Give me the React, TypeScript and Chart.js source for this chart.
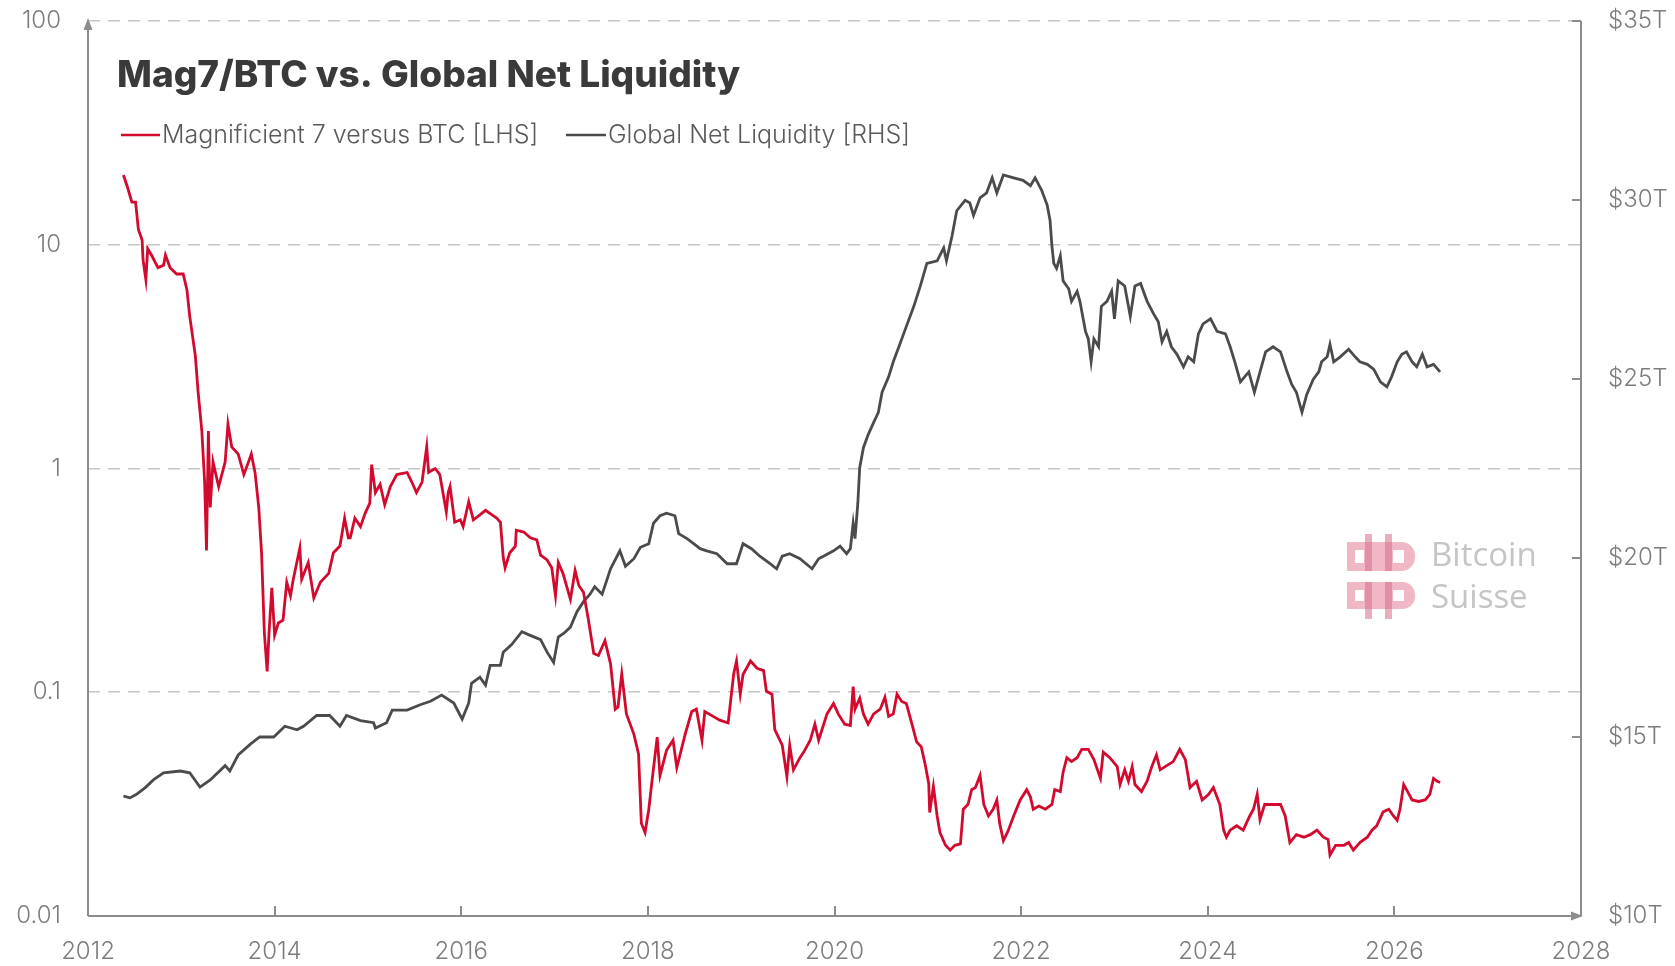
import React, { useEffect, useRef } from 'react';
import { Chart, registerables } from 'chart.js';

Chart.register(...registerables);

// ---------- data ----------
const mag7Years = [
  2012.38, 2012.43, 2012.47, 2012.51, 2012.54, 2012.58, 2012.59, 2012.62, 2012.64, 2012.68,
  2012.75, 2012.81, 2012.83, 2012.88, 2012.95, 2013.02, 2013.06, 2013.09, 2013.15, 2013.18,
  2013.22, 2013.25, 2013.27, 2013.29, 2013.31, 2013.34, 2013.40, 2013.47, 2013.50, 2013.54,
  2013.61, 2013.67, 2013.72, 2013.75, 2013.79, 2013.83, 2013.86, 2013.89, 2013.92, 2013.94,
  2013.97, 2014.00, 2014.04, 2014.09, 2014.13, 2014.17, 2014.20, 2014.27, 2014.29, 2014.36,
  2014.42, 2014.49, 2014.58, 2014.63, 2014.70, 2014.75, 2014.79, 2014.81, 2014.86, 2014.92,
  2014.97, 2015.02, 2015.04, 2015.08, 2015.13, 2015.18, 2015.24, 2015.31, 2015.42, 2015.47,
  2015.52, 2015.58, 2015.63, 2015.65, 2015.72, 2015.77, 2015.84, 2015.86, 2015.88, 2015.93,
  2015.99, 2016.02, 2016.08, 2016.13, 2016.20, 2016.26, 2016.33, 2016.38, 2016.42, 2016.45,
  2016.47, 2016.52, 2016.58, 2016.59, 2016.67, 2016.74, 2016.81, 2016.85, 2016.92, 2016.97,
  2017.01, 2017.04, 2017.09, 2017.17, 2017.22, 2017.26, 2017.31, 2017.36, 2017.42, 2017.47,
  2017.54, 2017.60, 2017.65, 2017.68, 2017.72, 2017.77, 2017.85, 2017.90, 2017.93, 2017.97,
  2018.01, 2018.04, 2018.10, 2018.13, 2018.20, 2018.27, 2018.31, 2018.40, 2018.47, 2018.52,
  2018.58, 2018.61, 2018.70, 2018.77, 2018.86, 2018.92, 2018.95, 2018.99, 2019.02, 2019.10,
  2019.17, 2019.24, 2019.27, 2019.33, 2019.36, 2019.44, 2019.49, 2019.52, 2019.56, 2019.63,
  2019.67, 2019.74, 2019.79, 2019.83, 2019.88, 2019.92, 2019.99, 2020.04, 2020.11, 2020.17,
  2020.20, 2020.22, 2020.27, 2020.31, 2020.36, 2020.42, 2020.49, 2020.54, 2020.58, 2020.63,
  2020.67, 2020.72, 2020.77, 2020.83, 2020.88, 2020.93, 2020.97, 2021.01, 2021.02, 2021.06,
  2021.10, 2021.13, 2021.19, 2021.24, 2021.29, 2021.35, 2021.38, 2021.43, 2021.47, 2021.51,
  2021.56, 2021.60, 2021.65, 2021.70, 2021.74, 2021.77, 2021.81, 2021.86, 2021.92, 2021.99,
  2022.06, 2022.10, 2022.13, 2022.19, 2022.26, 2022.33, 2022.36, 2022.42, 2022.45, 2022.49,
  2022.54, 2022.60, 2022.65, 2022.72, 2022.78, 2022.85, 2022.88, 2022.95, 2023.03, 2023.06,
  2023.11, 2023.15, 2023.19, 2023.22, 2023.29, 2023.35, 2023.40, 2023.45, 2023.49, 2023.56,
  2023.63, 2023.70, 2023.76, 2023.81, 2023.88, 2023.94, 2024.01, 2024.06, 2024.13, 2024.17,
  2024.20, 2024.24, 2024.31, 2024.38, 2024.45, 2024.49, 2024.53, 2024.56, 2024.61, 2024.67,
  2024.70, 2024.78, 2024.83, 2024.88, 2024.95, 2025.03, 2025.10, 2025.17, 2025.24, 2025.29,
  2025.31, 2025.37, 2025.46, 2025.51, 2025.56, 2025.63, 2025.71, 2025.76, 2025.81, 2025.88,
  2025.94, 2025.99, 2026.03, 2026.06, 2026.10, 2026.13, 2026.19, 2026.26, 2026.33, 2026.38,
  2026.42, 2026.46, 2026.49,
];
const mag7Values = [
  20.5, 17.7, 15.5, 15.5, 11.7, 10.5, 8.55, 7.0, 9.6, 9.0,
  7.9, 8.1, 9.0, 7.9, 7.4, 7.4, 6.3, 4.8, 3.2, 2.2,
  1.47, 0.87, 0.43, 1.47, 0.67, 1.07, 0.83, 1.07, 1.58, 1.25,
  1.16, 0.94, 1.07, 1.16, 0.96, 0.67, 0.42, 0.184, 0.124, 0.184,
  0.293, 0.18, 0.204, 0.21, 0.31, 0.27, 0.32, 0.44, 0.32, 0.38,
  0.264, 0.31, 0.34, 0.42, 0.45, 0.6, 0.49, 0.49, 0.6, 0.55,
  0.63, 0.7, 1.04, 0.78, 0.85, 0.69, 0.83, 0.94, 0.96, 0.87,
  0.78, 0.87, 1.25, 0.96, 1.0, 0.94, 0.64, 0.78, 0.83, 0.575,
  0.59, 0.55, 0.71, 0.59, 0.62, 0.65, 0.62, 0.6, 0.575, 0.40,
  0.36, 0.42, 0.45, 0.53, 0.52, 0.49, 0.48, 0.41, 0.39, 0.36,
  0.27, 0.38, 0.34, 0.26, 0.35, 0.30, 0.28, 0.214, 0.149, 0.146,
  0.17, 0.134, 0.084, 0.086, 0.121, 0.08, 0.065, 0.053, 0.026, 0.0236,
  0.03, 0.0387, 0.063, 0.0425, 0.055, 0.061, 0.046, 0.065, 0.082, 0.084,
  0.061, 0.082, 0.078, 0.075, 0.073, 0.121, 0.138, 0.098, 0.12, 0.138,
  0.128, 0.125, 0.101, 0.098, 0.068, 0.058, 0.042, 0.058, 0.045, 0.051,
  0.054, 0.061, 0.072, 0.061, 0.071, 0.08, 0.089, 0.08, 0.072, 0.071,
  0.106, 0.084, 0.094, 0.08, 0.072, 0.08, 0.084, 0.095, 0.078, 0.08,
  0.098, 0.091, 0.089, 0.072, 0.060, 0.057, 0.048, 0.039, 0.029, 0.038,
  0.028, 0.0236, 0.0207, 0.0197, 0.0207, 0.021, 0.03, 0.0315, 0.0367, 0.0375,
  0.0425, 0.0315, 0.028, 0.03, 0.033, 0.026, 0.0217, 0.024, 0.028, 0.033,
  0.0367, 0.034, 0.03, 0.031, 0.03, 0.0315, 0.0367, 0.036, 0.044, 0.051,
  0.049, 0.051, 0.0556, 0.0556, 0.050, 0.0412, 0.054, 0.051, 0.0465, 0.0387,
  0.045, 0.04, 0.0465, 0.0387, 0.036, 0.04, 0.0465, 0.0525, 0.045, 0.047,
  0.049, 0.0556, 0.05, 0.0375, 0.04, 0.033, 0.035, 0.0375, 0.0315, 0.0242,
  0.0225, 0.0242, 0.0253, 0.0242, 0.028, 0.03, 0.035, 0.027, 0.0315, 0.0315,
  0.0315, 0.0315, 0.028, 0.0213, 0.0231, 0.0225, 0.0231, 0.0242, 0.0225, 0.022,
  0.0187, 0.0207, 0.0207, 0.0213, 0.0197, 0.0213, 0.0225, 0.0242, 0.0253, 0.0292,
  0.03, 0.028, 0.0268, 0.03, 0.0387, 0.0367, 0.033, 0.0325, 0.033, 0.035,
  0.0412, 0.04, 0.0395,
];

const liqYears = [
  2012.38, 2012.45, 2012.52, 2012.62, 2012.70, 2012.81, 2012.99, 2013.09, 2013.20, 2013.31,
  2013.47, 2013.52, 2013.61, 2013.74, 2013.84, 2013.99, 2014.11, 2014.24, 2014.31, 2014.45,
  2014.59, 2014.70, 2014.77, 2014.92, 2015.06, 2015.08, 2015.20, 2015.26, 2015.42, 2015.56,
  2015.67, 2015.79, 2015.92, 2016.01, 2016.08, 2016.11, 2016.20, 2016.26, 2016.31, 2016.42,
  2016.45, 2016.54, 2016.65, 2016.72, 2016.85, 2016.92, 2016.99, 2017.04, 2017.10, 2017.17,
  2017.24, 2017.31, 2017.38, 2017.43, 2017.51, 2017.60, 2017.70, 2017.76, 2017.85, 2017.92,
  2018.01, 2018.06, 2018.13, 2018.20, 2018.29, 2018.33, 2018.42, 2018.49, 2018.56, 2018.63,
  2018.74, 2018.85, 2018.95, 2019.02, 2019.11, 2019.20, 2019.31, 2019.38, 2019.44, 2019.52,
  2019.63, 2019.76, 2019.83, 2019.99, 2020.06, 2020.13, 2020.17, 2020.20, 2020.22, 2020.25,
  2020.27, 2020.31, 2020.36, 2020.42, 2020.47, 2020.51, 2020.58, 2020.63, 2020.70, 2020.77,
  2020.85, 2020.92, 2020.99, 2021.10, 2021.17, 2021.20, 2021.26, 2021.31, 2021.40, 2021.45,
  2021.49, 2021.56, 2021.63, 2021.69, 2021.74, 2021.81, 2021.92, 2022.02, 2022.10, 2022.15,
  2022.22, 2022.28, 2022.31, 2022.33, 2022.35, 2022.38, 2022.42, 2022.45, 2022.51, 2022.54,
  2022.60, 2022.63, 2022.69, 2022.72, 2022.75, 2022.78, 2022.83, 2022.86, 2022.92, 2022.97,
  2023.00, 2023.04, 2023.11, 2023.17, 2023.22, 2023.28, 2023.35, 2023.42, 2023.47, 2023.51,
  2023.56, 2023.61, 2023.67, 2023.74, 2023.79, 2023.85, 2023.90, 2023.95, 2024.03, 2024.10,
  2024.19, 2024.24, 2024.29, 2024.35, 2024.44, 2024.50, 2024.56, 2024.62, 2024.70, 2024.78,
  2024.85, 2024.90, 2024.95, 2025.01, 2025.06, 2025.13, 2025.19, 2025.22, 2025.28, 2025.31,
  2025.35, 2025.42, 2025.51, 2025.58, 2025.63, 2025.71, 2025.78, 2025.85, 2025.92, 2025.97,
  2026.03, 2026.08, 2026.13, 2026.19, 2026.24, 2026.30, 2026.35, 2026.42, 2026.49,
];
const liqValues = [
  13.35, 13.3, 13.4, 13.6, 13.8, 14.0, 14.05, 14.0, 13.6, 13.8,
  14.2, 14.05, 14.5, 14.8, 15.0, 15.0, 15.3, 15.2, 15.3, 15.6,
  15.6, 15.3, 15.6, 15.46, 15.4, 15.25, 15.4, 15.75, 15.75, 15.9,
  16.0, 16.17, 15.95, 15.5, 15.95, 16.5, 16.67, 16.45, 17.0, 17.0,
  17.37, 17.58, 17.94, 17.86, 17.72, 17.37, 17.08, 17.79, 17.9, 18.07,
  18.5, 18.78, 18.99, 19.2, 18.99, 19.7, 20.2, 19.77, 19.98, 20.3,
  20.4, 20.97, 21.18, 21.25, 21.18, 20.68, 20.54, 20.4, 20.26, 20.2,
  20.12, 19.84, 19.84, 20.4, 20.26, 20.05, 19.84, 19.7, 20.05, 20.12,
  19.98, 19.7, 19.98, 20.2, 20.33, 20.12, 20.26, 20.97, 20.54, 21.53,
  22.52, 23.08, 23.44, 23.79, 24.07, 24.63, 25.06, 25.48, 25.97, 26.47,
  27.03, 27.6, 28.23, 28.3, 28.66, 28.3, 29.0, 29.7, 29.99, 29.92,
  29.57, 30.06, 30.2, 30.62, 30.2, 30.7, 30.62, 30.55, 30.4, 30.62,
  30.27, 29.85, 29.43, 28.72, 28.23, 28.09, 28.44, 27.74, 27.52, 27.17,
  27.45, 27.17, 26.33, 26.12, 25.48, 26.12, 25.9, 27.03, 27.17, 27.45,
  26.68, 27.74, 27.6, 26.75, 27.6, 27.67, 27.17, 26.82, 26.6, 26.04,
  26.33, 25.9, 25.69, 25.34, 25.62, 25.48, 26.26, 26.54, 26.68, 26.33,
  26.26, 25.9, 25.48, 24.92, 25.2, 24.63, 25.2, 25.76, 25.9, 25.76,
  25.2, 24.85, 24.63, 24.07, 24.56, 24.99, 25.2, 25.48, 25.62, 25.97,
  25.48, 25.62, 25.83, 25.62, 25.48, 25.41, 25.27, 24.92, 24.78, 25.06,
  25.48, 25.69, 25.76, 25.48, 25.34, 25.69, 25.34, 25.41, 25.2,
];

const xTickYears = [2012, 2014, 2016, 2018, 2020, 2022, 2024, 2026, 2028];
const leftTickValues = [0.01, 0.1, 1, 10, 100];
const leftTickLabels = ['0.01', '0.1', '1', '10', '100'];
const rightTickValues = [10, 15, 20, 25, 30, 35];
const rightTickLabels = ['$10T', '$15T', '$20T', '$25T', '$30T', '$35T'];

const titleText = 'Mag7/BTC vs. Global Net Liquidity';
const seriesNames = ['Magnificient 7 versus BTC [LHS]', 'Global Net Liquidity [RHS]'];
const watermarkWords = ['Bitcoin', 'Suisse'];

// ---------- styles ----------
const RED = '#d20a2e';
const DARK = '#4b4b4b';
const AXIS = '#8c8c8c';
const TICK_TEXT = '#7d7d7d';
const GRID = '#c6c6c6';
const FONT = 'Inter, "Noto Sans", sans-serif';

const fitFont = (ctx: CanvasRenderingContext2D, text: string, weight: string, targetWidth: number) => {
  ctx.font = `${weight} 100px ${FONT}`;
  const w = ctx.measureText(text).width;
  return Math.round((100 * targetWidth) / w * 10) / 10;
};

const decorPlugin = {
  id: 'decor',
  beforeDatasetsDraw(chart: any) {
    const { ctx } = chart;
    ctx.save();
    // watermark logo
    const pink = 'rgba(230, 140, 162, 0.62)';
    const pinkBar = 'rgba(215, 110, 138, 0.55)';
    const drawGlyph = (top: number, h: number, barTop: number, barBottom: number) => {
      ctx.fillStyle = pink;
      ctx.beginPath();
      ctx.moveTo(1347, top);
      ctx.lineTo(1402, top);
      ctx.arcTo(1415, top, 1415, top + h / 2, h / 2 - 1);
      ctx.arcTo(1415, top + h, 1402, top + h, h / 2 - 1);
      ctx.lineTo(1347, top + h);
      ctx.closePath();
      ctx.fill();
      ctx.fillStyle = '#ffffff';
      ctx.fillRect(1355, top + 8, 9, h - 16);
      ctx.fillRect(1393, top + 8, 11, h - 16);
      ctx.fillStyle = pinkBar;
      ctx.fillRect(1365, barTop, 7, barBottom - barTop);
      ctx.fillRect(1385, barTop, 7, barBottom - barTop);
    };
    drawGlyph(542, 29, 534, 571);
    drawGlyph(582, 27, 582, 619);
    ctx.fillStyle = '#c5c5c5';
    ctx.font = `400 33px "Open Sans", ${FONT}`;
    ctx.textAlign = 'left';
    ctx.textBaseline = 'middle';
    ctx.fillText(watermarkWords[0], 1431, 557);
    ctx.fillText(watermarkWords[1], 1431, 599);
    ctx.restore();
  },
  afterDraw(chart: any) {
    const { ctx, chartArea: ca, scales } = chart;
    ctx.save();
    ctx.strokeStyle = AXIS;
    ctx.fillStyle = AXIS;
    ctx.lineWidth = 2;
    ctx.setLineDash([]);
    // left axis
    ctx.beginPath();
    ctx.moveTo(ca.left, ca.bottom);
    ctx.lineTo(ca.left, ca.top + 6);
    ctx.stroke();
    ctx.beginPath();
    ctx.moveTo(ca.left, ca.top - 3);
    ctx.lineTo(ca.left - 4.5, ca.top + 9);
    ctx.lineTo(ca.left + 4.5, ca.top + 9);
    ctx.closePath();
    ctx.fill();
    // bottom axis
    ctx.beginPath();
    ctx.moveTo(ca.left, ca.bottom);
    ctx.lineTo(ca.right - 6, ca.bottom);
    ctx.stroke();
    ctx.beginPath();
    ctx.moveTo(ca.right + 2, ca.bottom);
    ctx.lineTo(ca.right - 10, ca.bottom - 4.5);
    ctx.lineTo(ca.right - 10, ca.bottom + 4.5);
    ctx.closePath();
    ctx.fill();
    // right axis
    ctx.beginPath();
    ctx.moveTo(ca.right, ca.top);
    ctx.lineTo(ca.right, ca.bottom);
    ctx.stroke();
    // right ticks (inward)
    const y2 = scales.y2;
    rightTickValues.forEach((v) => {
      const py = Math.round(y2.getPixelForValue(v));
      ctx.beginPath();
      ctx.moveTo(ca.right - 9, py);
      ctx.lineTo(ca.right, py);
      ctx.stroke();
    });
    // bottom ticks (inward)
    const xs = scales.x;
    xTickYears.slice(1, -1).forEach((v) => {
      const px = Math.round(xs.getPixelForValue(v));
      ctx.beginPath();
      ctx.moveTo(px, ca.bottom);
      ctx.lineTo(px, ca.bottom - 10);
      ctx.stroke();
    });

    // title
    const tSize = fitFont(ctx, titleText, '800', 623);
    ctx.font = `800 ${tSize}px ${FONT}`;
    ctx.fillStyle = '#3a3a3a';
    ctx.textAlign = 'left';
    ctx.textBaseline = 'middle';
    ctx.fillText(titleText, 117, 76);

    // legend
    const lSize = fitFont(ctx, seriesNames[0], '300', 376);
    ctx.font = `300 ${lSize}px ${FONT}`;
    ctx.fillStyle = '#5a5a5a';
    const legendY = 135;
    const items = [
      { color: RED, x0: 121, x1: 160, tx: 162, label: seriesNames[0] },
      { color: DARK, x0: 566, x1: 606, tx: 608, label: seriesNames[1] },
    ];
    items.forEach((it) => {
      ctx.strokeStyle = it.color;
      ctx.lineWidth = 2.5;
      ctx.beginPath();
      ctx.moveTo(it.x0, legendY);
      ctx.lineTo(it.x1, legendY);
      ctx.stroke();
      ctx.fillText(it.label, it.tx, legendY);
    });
    ctx.restore();
  },
};

const tickFont = { family: FONT, size: 24, weight: 300 as any };

export default function App() {
  const canvasRef = useRef<HTMLCanvasElement | null>(null);

  useEffect(() => {
    document.body.style.margin = '0';
    const canvas = canvasRef.current;
    if (!canvas) return;
    const chart = new Chart(canvas, {
      type: 'line',
      data: {
        datasets: [
          {
            label: seriesNames[0],
            data: mag7Years.map((x, i) => ({ x, y: mag7Values[i] })),
            borderColor: RED,
            backgroundColor: RED,
            borderWidth: 2.8,
            yAxisID: 'y',
            pointRadius: 0,
            tension: 0,
          },
          {
            label: seriesNames[1],
            data: liqYears.map((x, i) => ({ x, y: liqValues[i] })),
            borderColor: DARK,
            backgroundColor: DARK,
            borderWidth: 2.8,
            yAxisID: 'y2',
            pointRadius: 0,
            tension: 0,
          },
        ],
      },
      options: {
        animation: false,
        responsive: true,
        maintainAspectRatio: false,
        layout: { padding: { top: 21, left: 0, right: 0, bottom: 0 } },
        plugins: {
          legend: { display: false },
          tooltip: { enabled: false },
          title: { display: false },
        },
        scales: {
          x: {
            type: 'linear',
            min: 2012,
            max: 2028,
            afterBuildTicks: (s: any) => {
              s.ticks = xTickYears.map((v) => ({ value: v }));
            },
            afterFit: (s: any) => {
              s.height = 50;
              s.paddingLeft = 0;
              s.paddingRight = 0;
            },
            grid: { display: false, drawTicks: false },
            border: { display: false },
            ticks: {
              callback: (v: any) => String(v),
              font: tickFont,
              color: TICK_TEXT,
              padding: 21,
              maxRotation: 0,
              autoSkip: false,
            },
          },
          y: {
            type: 'logarithmic',
            position: 'left',
            min: 0.01,
            max: 100,
            afterBuildTicks: (s: any) => {
              s.ticks = leftTickValues.map((v) => ({ value: v }));
            },
            afterFit: (s: any) => {
              s.width = 88;
              s.paddingTop = 0;
              s.paddingBottom = 0;
            },
            grid: {
              color: (c: any) => (c.tick && c.tick.value === 0.01 ? 'rgba(0,0,0,0)' : GRID),
              lineWidth: 1.6,
              drawTicks: false,
            },
            border: { display: false, dash: [12, 8] },
            ticks: {
              callback: (v: any) => {
                const i = leftTickValues.findIndex((t) => Math.abs(t - v) < t * 1e-6);
                return i >= 0 ? leftTickLabels[i] : '';
              },
              font: tickFont,
              color: TICK_TEXT,
              padding: 27,
              autoSkip: false,
            },
          },
          y2: {
            type: 'linear',
            position: 'right',
            min: 10,
            max: 35,
            afterBuildTicks: (s: any) => {
              s.ticks = rightTickValues.map((v) => ({ value: v }));
            },
            afterFit: (s: any) => {
              s.width = 94;
              s.paddingTop = 0;
              s.paddingBottom = 0;
            },
            grid: { display: false, drawTicks: false },
            border: { display: false },
            ticks: {
              callback: (v: any) => {
                const i = rightTickValues.indexOf(v);
                return i >= 0 ? rightTickLabels[i] : '';
              },
              font: tickFont,
              color: TICK_TEXT,
              padding: 27,
              autoSkip: false,
            },
          },
        },
      } as any,
      plugins: [decorPlugin as any],
    });
    return () => chart.destroy();
  }, []);

  return (
    <div style={{ width: 1675, height: 966, position: 'relative', background: '#ffffff' }}>
      <canvas ref={canvasRef} />
    </div>
  );
}
